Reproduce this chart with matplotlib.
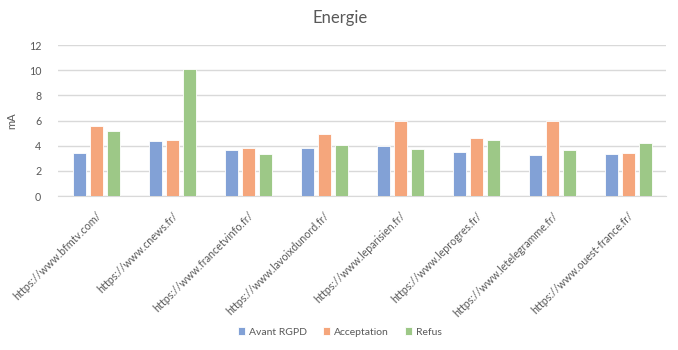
import matplotlib
matplotlib.use("Agg")
import matplotlib.pyplot as plt
import numpy as np

categories = ["https://www.bfmtv.com/", "https://www.cnews.fr/", "https://www.francetvinfo.fr/",
              "https://www.lavoixdunord.fr/", "https://www.leparisien.fr/", "https://www.leprogres.fr/",
              "https://www.letelegramme.fr/", "https://www.ouest-france.fr/"]
avant_rgpd = [3.41, 4.40, 3.68, 3.84, 4.00, 3.52, 3.23, 3.33]
acceptation = [5.55, 4.48, 3.84, 4.93, 6.00, 4.61, 5.95, 3.41]
refus = [5.15, 10.12, 3.33, 4.08, 3.76, 4.45, 3.68, 4.24]
series_names = ["Avant RGPD", "Acceptation", "Refus"]
colors = ["#82A1D6", "#F5A67C", "#9DC887"]
y_ticks = [0, 2, 4, 6, 8, 10, 12]

plt.rcParams['font.family'] = ['Lato', 'DejaVu Sans']

fig = plt.figure(figsize=(6.78, 3.5), dpi=100)
ax = fig.add_axes([58/678, 1-196/350, 608/678, 151/350])

x = np.arange(len(categories))
w = 13/76
pitch = 17/76
for i, (vals, name, c) in enumerate(zip([avant_rgpd, acceptation, refus], series_names, colors)):
    ax.bar(x + (i-1)*pitch, vals, width=w, color=c, label=name, edgecolor='white', linewidth=0.6, zorder=3)

ax.set_xlim(-0.5, len(categories)-0.5)
ax.set_ylim(0, 12)
ax.set_yticks(y_ticks)
ax.yaxis.grid(True, color='#D9D9D9', linewidth=1, zorder=0)
for s in ['top', 'right', 'left']:
    ax.spines[s].set_visible(False)
ax.spines['bottom'].set_color('#D9D9D9')
ax.tick_params(axis='both', length=0, labelsize=7.7, colors='#595959')
ax.tick_params(axis='y', pad=12)
ax.set_xticks(x)
ax.set_xticklabels(categories, rotation=45, ha='right', va='top', rotation_mode='anchor')
ax.tick_params(axis='x', pad=10)
ax.set_ylabel("mA", fontsize=8, color='#595959', labelpad=8)

fig.text(340/678, 1-18/350, "Energie", ha='center', va='center', fontsize=12, color='#595959')

leg = fig.legend(loc='center', bbox_to_anchor=(340/678, 1-332/350), ncol=3, frameon=False,
                 fontsize=7.5, handlelength=0.7, handleheight=0.7, handletextpad=0.4, columnspacing=1.5)
for t in leg.get_texts():
    t.set_color('#595959')

fig.savefig("out.png", dpi=100)
